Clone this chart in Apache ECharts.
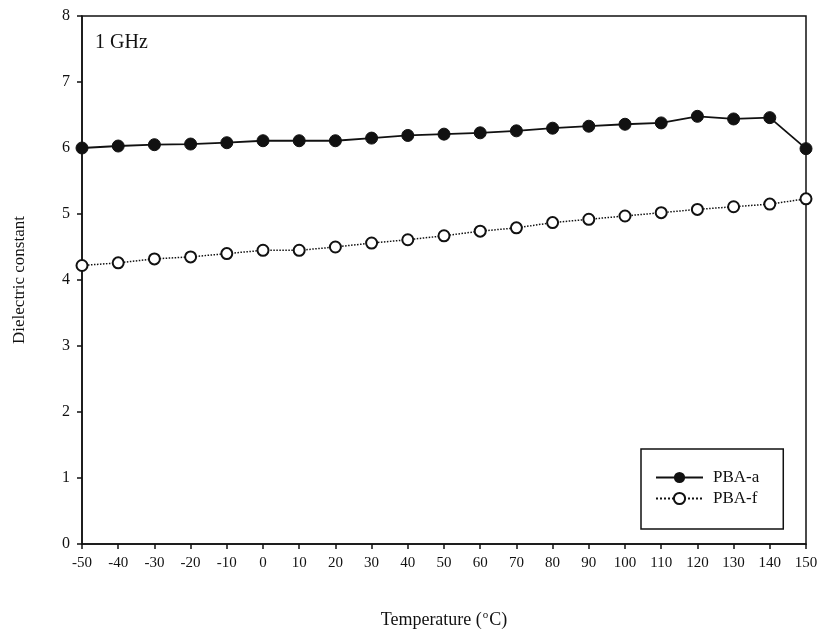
<!DOCTYPE html>
<html><head><meta charset="utf-8">
<script src="https://cdn.jsdelivr.net/npm/echarts@6/dist/echarts.min.js"></script>
<style>html,body{margin:0;padding:0;background:#fff}#c{width:823px;height:638px}</style>
</head><body><div id="c"></div>
<script>
const temperatures = [-50,-40,-30,-20,-10,0,10,20,30,40,50,60,70,80,90,100,110,120,130,140,150];
const pbaA = [6.00,6.03,6.05,6.06,6.08,6.11,6.11,6.11,6.15,6.19,6.21,6.23,6.26,6.30,6.33,6.36,6.38,6.48,6.44,6.46,5.99];
const pbaF = [4.22,4.26,4.32,4.35,4.40,4.45,4.45,4.50,4.56,4.61,4.67,4.74,4.79,4.87,4.92,4.97,5.02,5.07,5.11,5.15,5.23];
const seriesNames = ['PBA-a','PBA-f'];
const annotation = '1 GHz';
const FONT = '"Liberation Serif", "DejaVu Serif", serif';

const chart = echarts.init(document.getElementById('c'), null, {renderer:'canvas'});
chart.setOption({
  backgroundColor:'#fff',
  animation:false,
  grid:{left:82,right:17,top:16,bottom:94,show:true,borderColor:'#111',borderWidth:1.5,backgroundColor:'transparent'},
  xAxis:{
    type:'value',min:-50,max:150,interval:10,
    axisLine:{onZero:false,lineStyle:{color:'#111',width:1.5}},
    axisTick:{show:true,length:5,lineStyle:{color:'#111',width:1.5}},
    splitLine:{show:false},
    axisLabel:{color:'#111',fontFamily:FONT,fontSize:15,margin:12,showMinLabel:true,showMaxLabel:true,hideOverlap:false},
    name:'{a|Temperature (}{s|o}{a|C)}',
    nameLocation:'middle',nameGap:66,
    nameTextStyle:{rich:{a:{fontFamily:FONT,fontSize:18,color:'#111'},s:{fontFamily:FONT,fontSize:11,color:'#111',verticalAlign:'top',padding:[0,1,10,1]}}}
  },
  yAxis:{
    type:'value',min:0,max:8,interval:1,
    axisLine:{show:true,onZero:false,lineStyle:{color:'#111',width:1.5}},
    axisTick:{show:true,length:5,lineStyle:{color:'#111',width:1.5}},
    splitLine:{show:false},
    axisLabel:{color:'#111',fontFamily:FONT,fontSize:16,margin:12},
    name:'Dielectric constant',nameLocation:'middle',nameGap:54,
    nameTextStyle:{fontFamily:FONT,fontSize:17,color:'#111'}
  },
  legend:{
    orient:'vertical',left:641,top:449,
    padding:[20,24,22,14],itemGap:4,
    itemWidth:47,itemHeight:14,
    borderColor:'#111',borderWidth:1.5,backgroundColor:'#fff',
    textStyle:{fontFamily:FONT,fontSize:17,color:'#111',padding:[0,0,0,5]},
    data:seriesNames
  },
  graphic:[{type:'text',left:95,top:33,style:{text:annotation,font:'20px '+FONT,fill:'#111'}}],
  series:[
    {name:seriesNames[0],type:'line',data:temperatures.map((t,i)=>[t,pbaA[i]]),
     symbol:'circle',symbolSize:12,itemStyle:{color:'#111',borderColor:'#111'},
     lineStyle:{color:'#111',width:1.8},z:3},
    {name:seriesNames[1],type:'line',data:temperatures.map((t,i)=>[t,pbaF[i]]),
     symbol:'circle',symbolSize:11,itemStyle:{color:'#fff',borderColor:'#111',borderWidth:2},
     lineStyle:{color:'#111',width:1.5,type:'dotted'},z:3}
  ]
});
</script></body></html>
